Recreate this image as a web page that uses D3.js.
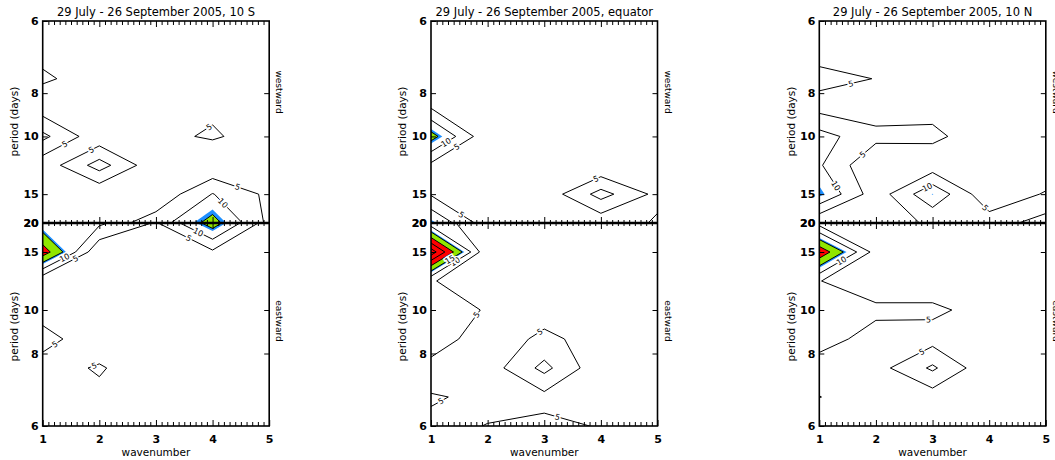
<!DOCTYPE html>
<html><head><meta charset="utf-8">
<script src="https://cdn.jsdelivr.net/npm/d3@7"></script>
<style>
body{margin:0;background:#fff;}
svg{display:block;}
text{font-family:"DejaVu Sans","Liberation Sans",Arial,sans-serif;fill:#000;}
</style></head><body>
<svg id="c" width="1055" height="460"></svg>
<script>
// ---------------- data ----------------
const wavenumbers = [1, 2, 3, 4, 5];
const recordDays = 60;                       // 29 July - 26 September
const harmonicsWest = [10, 9, 8, 7, 6, 5, 4, 3];   // grid rows, top (6 d) -> 20 d
const harmonicsEast = [3, 4, 5, 6, 7, 8, 9, 10];   // grid rows, 20 d -> 6 d (bottom)
const periodTicks = [6, 8, 10, 15, 20];
const wnTicks = [1, 2, 3, 4, 5];
const titles = ["29 July - 26 September 2005, 10 S",
                "29 July - 26 September 2005, equator",
                "29 July - 26 September 2005, 10 N"];
const lineLevels = [5, 10, 15, 20, 25, 30, 35];
const labelLevels = [5, 10, 15];
const fillLevels = [13.8, 15, 20];
const fillColors = ["#1e8fff", "#90e600", "#ff0000"];

// power (rows follow harmonicsWest / harmonicsEast, columns follow wavenumbers)
const west10S = [
  [2, 1, 1, 1, 1],
  [3.8, 1.5, 1, 1, 1],
  [5.6, 3.2, 1.5, 1.5, 1],
  [2.3, 2, 2, 4.1, 2],
  [11.3, 1.5, 3.7, 5.6, 2.6],
  [1.75, 12.2, 1.3, 0.6, 1.5],
  [2, 0.7, 1.1, 10.2, 3.8],
  [2, 2, 7.5, 17, 3.7]
];
const east10S = [
  [11.2, 11, 4.5, 17.5, 2],
  [23, 0.6, 1, 4.1, 1.5],
  [0.6, 1, 1, 1, 1],
  [2.7, 1, 1, 1, 1],
  [7, 1.4, 1, 1, 1],
  [2.6, 5.6, 1, 1, 1],
  [1.5, 3.6, 1, 1, 1],
  [1, 1, 1, 1, 1]
];
const westEq = [
  [1, 1, 1, 1, 1],
  [1, 1, 1, 1, 1],
  [1, 1, 1, 1, 1],
  [4.7, 1, 1, 1, 1],
  [17, 1, 1, 1, 1],
  [3.8, 1, 1, 0.5, 1],
  [4.5, 1, 1.7, 11.9, 3.6],
  [15, 2, 1, 1.5, 5.7]
];
const eastEq = [
  [7, 2.5, 1, 1, 1],
  [33, 0.3, 1, 1, 1],
  [5.5, 0.5, 1, 1, 1],
  [7, 4.7, 3.1, 1, 1],
  [7.5, 2.4, 6, 3.2, 1],
  [3.5, 2.4, 11.5, 1.25, 1],
  [5.22, 4.5, 3.5, 2, 1],
  [4.55, 5.05, 6.2, 4.7, 2]
];
const west10N = [
  [1, 1, 1, 1, 1],
  [3.25, 1, 1, 1, 1],
  [6.27, 4.9, 1, 1, 1],
  [3.25, 2.3, 3.6, 1, 1],
  [12, 6.5, 6, 2.3, 1],
  [10.6, 0.25, 2, 1, 1],
  [15, 2.1, 14, 1, 5.5],
  [0.3, 4, 5.3, 7.6, 12.2]
];
const east10N = [
  [3, 2, 1, 1, 1],
  [24, 2.8, 1, 1, 1],
  [5.125, 2, 2, 1, 1],
  [5.6, 6, 6, 3.06, 1],
  [6.9, 3.2, 3, 1, 1],
  [2.8, 3, 10.86, 1, 1],
  [5.1, 2.5, 2.4, 1, 1],
  [1, 1, 1, 1, 1]
];
const panels = [
  {title: titles[0], west: west10S, east: east10S},
  {title: titles[1], west: westEq, east: eastEq},
  {title: titles[2], west: west10N, east: east10N}
];

// ---------------- layout ----------------
const panelLeft = [42.7, 431.0, 819.3];
const plotW = 226.5, yTop = 21, yMid = 223, yBot = 426;

const svg = d3.select("#c");
const defs = svg.append("defs");

panels.forEach((P, pi) => {
  const x0 = panelLeft[pi], x1 = x0 + plotW;
  const x = d3.scaleLinear().domain([wavenumbers[0], wavenumbers[wavenumbers.length-1]]).range([x0, x1]);
  const yW = d3.scaleLinear().domain([1/20, 1/6]).range([yMid, yTop]);
  const yE = d3.scaleLinear().domain([1/20, 1/6]).range([yMid, yBot]);
  const g = svg.append("g");

  const halves = [
    {data: P.west, harm: harmonicsWest, y: yW, r: {x0, x1, y0: yTop, y1: yMid}, id: "w"+pi},
    {data: P.east, harm: harmonicsEast, y: yE, r: {x0, x1, y0: yMid, y1: yBot}, id: "e"+pi}
  ];

  halves.forEach(H => {
    const nx = wavenumbers.length, ny = H.harm.length;
    const vals = H.data.flat();
    const step = H.harm[1] - H.harm[0];
    const proj = (cx, cy) => {
      const wn = wavenumbers[0] + (cx - 0.5);
      const k = H.harm[0] + (cy - 0.5) * step;
      return [x(wn), H.y(k / recordDays)];
    };
    const path = d3.geoPath(d3.geoTransform({point(px, py){ const p = proj(px, py); this.stream.point(p[0], p[1]); }}));
    defs.append("clipPath").attr("id", "clip" + H.id)
      .append("rect").attr("x", H.r.x0).attr("y", H.r.y0)
      .attr("width", H.r.x1 - H.r.x0).attr("height", H.r.y1 - H.r.y0);
    const hg = g.append("g").attr("clip-path", "url(#clip" + H.id + ")");
    const cont = d3.contours().size([nx, ny]);
    fillLevels.forEach((lv, i) => {
      hg.append("path").attr("d", path(cont.contour(vals, lv))).attr("fill", fillColors[i]).attr("stroke", "none");
    });
    lineLevels.forEach(lv => {
      hg.append("path").attr("d", path(cont.contour(vals, lv))).attr("fill", "none")
        .attr("stroke", "#000").attr("stroke-width", 1);
    });
    // contour labels, placed automatically along the visible part of each line
    const tol = 0.6;
    labelLevels.forEach(lv => {
      const minLen = lv === 5 ? 35 : 55;
      const geom = cont.contour(vals, lv);
      geom.coordinates.forEach(poly => poly.forEach(ring => {
        const pts = ring.map(([cx, cy]) => proj(cx, cy));
        const n = pts.length - 1;
        const ins = pts.map(p => p[0] >= H.r.x0 - tol && p[0] <= H.r.x1 + tol && p[1] >= H.r.y0 - tol && p[1] <= H.r.y1 + tol);
        const start = ins.slice(0, n).findIndex(v => !v);
        const runs = [];
        if (start < 0) runs.push(pts.slice(0, n + 1));
        else {
          let cur = null;
          for (let j = 1; j <= n; j++) {
            const idx = (start + j) % n;
            if (ins[idx]) { if (!cur) cur = []; cur.push(pts[idx]); }
            else if (cur) { runs.push(cur); cur = null; }
          }
          if (cur) runs.push(cur);
        }
        runs.forEach(run => {
          const seg = []; let L = 0;
          for (let j = 1; j < run.length; j++) {
            const d = Math.hypot(run[j][0] - run[j-1][0], run[j][1] - run[j-1][1]);
            seg.push(d); L += d;
          }
          if (L < minLen) return;
          const target = L * 0.3; let acc = 0;
          for (let j = 0; j < seg.length; j++) {
            if (acc + seg[j] >= target) {
              const t = (target - acc) / seg[j];
              const px = run[j][0] + t * (run[j+1][0] - run[j][0]);
              const py = run[j][1] + t * (run[j+1][1] - run[j][1]);
              let ang = Math.atan2(run[j+1][1] - run[j][1], run[j+1][0] - run[j][0]) * 180 / Math.PI;
              if (ang > 90) ang -= 180; if (ang < -90) ang += 180;
              hg.append("text").attr("transform", `translate(${px},${py}) rotate(${ang})`)
                .attr("text-anchor", "middle").attr("dy", "0.35em")
                .attr("font-size", 8).attr("stroke", "#fff").attr("stroke-width", 3)
                .attr("paint-order", "stroke").text(lv);
              break;
            }
            acc += seg[j];
          }
        });
      }));
    });
  });

  // ---------- axes ----------
  const minor = d3.range(11, 50).map(d => d / 10).filter(d => d % 1 !== 0);
  const majorInner = [2, 3, 4];
  const fmtP = d => Math.round(1 / d);
  const pt = periodTicks.map(p => 1 / p);
  g.append("g").attr("transform", `translate(0,${yBot})`)
    .call(d3.axisBottom(x).tickValues(wnTicks).tickSizeInner(-6).tickSizeOuter(0).tickPadding(9).tickFormat(d3.format("d")))
    .call(a => a.select(".domain").remove())
    .call(a => a.selectAll("text").attr("font-size", 11).attr("font-weight", "bold"));
  g.append("g").attr("transform", `translate(0,${yBot})`)
    .call(d3.axisBottom(x).tickValues(minor).tickSizeInner(-4).tickSizeOuter(0).tickFormat(""))
    .call(a => a.select(".domain").remove());
  g.append("g").attr("transform", `translate(0,${yTop})`)
    .call(d3.axisTop(x).tickValues(majorInner).tickSizeInner(-6).tickSizeOuter(0).tickFormat(""))
    .call(a => a.select(".domain").remove());
  g.append("g").attr("transform", `translate(0,${yTop})`)
    .call(d3.axisTop(x).tickValues(minor).tickSizeInner(-4).tickSizeOuter(0).tickFormat(""))
    .call(a => a.select(".domain").remove());
  [[majorInner, 6], [minor, 3]].forEach(([vals, s]) => {
    g.append("g").attr("transform", `translate(0,${yMid})`)
      .call(d3.axisTop(x).tickValues(vals).tickSizeInner(s).tickSizeOuter(0).tickFormat(""))
      .call(a => a.select(".domain").remove());
    g.append("g").attr("transform", `translate(0,${yMid})`)
      .call(d3.axisBottom(x).tickValues(vals).tickSizeInner(s).tickSizeOuter(0).tickFormat(""))
      .call(a => a.select(".domain").remove());
  });
  [yW, yE].forEach(ys => {
    g.append("g").attr("transform", `translate(${x0},0)`)
      .call(d3.axisLeft(ys).tickValues(pt).tickSizeInner(-5).tickSizeOuter(0).tickPadding(4).tickFormat(fmtP))
      .call(a => a.select(".domain").remove())
      .call(a => a.selectAll("text").attr("font-size", 11).attr("font-weight", "bold"));
    g.append("g").attr("transform", `translate(${x1},0)`)
      .call(d3.axisRight(ys).tickValues(pt.slice(1, 4)).tickSizeInner(-5).tickSizeOuter(0).tickFormat(""))
      .call(a => a.select(".domain").remove());
  });
  g.selectAll(".tick line").attr("stroke", "#000").attr("stroke-width", 1);
  g.append("rect").attr("x", x0).attr("y", yTop).attr("width", plotW).attr("height", yBot - yTop)
    .attr("fill", "none").attr("stroke", "#000").attr("stroke-width", 1.6);
  g.append("line").attr("x1", x0).attr("x2", x1).attr("y1", yMid).attr("y2", yMid)
    .attr("stroke", "#000").attr("stroke-width", 2.4);

  g.append("text").attr("x", (x0 + x1) / 2).attr("y", 15.5).attr("text-anchor", "middle")
    .attr("font-size", 11.5).text(P.title);
  g.append("text").attr("x", (x0 + x1) / 2).attr("y", 455.5).attr("text-anchor", "middle")
    .attr("font-size", 10.5).text("wavenumber");
  [121.5, 326.5].forEach(yc => {
    g.append("text").attr("transform", `translate(${x0 - 24.7},${yc}) rotate(-90)`)
      .attr("text-anchor", "middle").attr("font-size", 10.5).text("period (days)");
  });
  g.append("text").attr("transform", `translate(${x1 + 7},92) rotate(90)`)
    .attr("text-anchor", "middle").attr("font-size", 9).text("westward");
  g.append("text").attr("transform", `translate(${x1 + 7},321) rotate(90)`)
    .attr("text-anchor", "middle").attr("font-size", 9).text("eastward");
});
</script>
</body></html>
